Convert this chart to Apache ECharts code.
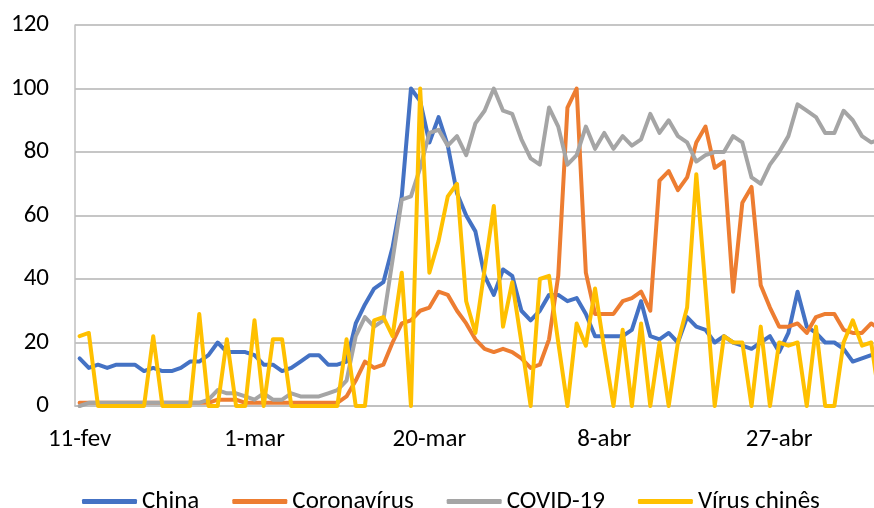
<!DOCTYPE html>
<html>
<head>
<meta charset="utf-8">
<script src="https://cdn.jsdelivr.net/npm/echarts@6/dist/echarts.min.js"></script>
<style>
  html, body { margin: 0; padding: 0; background: #fff; overflow: hidden; }
  /* o gráfico original está cortado à direita, por isso o div é mais largo que a janela */
  #chart { width: 885px; height: 508px; }
</style>
</head>
<body>
<div id="chart"></div>
<script>
// dias de 11-fev em diante
var startDate = new Date(2020, 1, 11);
var monthNames = ['jan', 'fev', 'mar', 'abr', 'mai'];
var dayCount = 88;

var china = [
  15, 12, 13, 12, 13, 13, 13, 11, 12, 11,
  11, 12, 14, 14, 16, 20, 17, 17, 17, 16,
  13, 13, 11, 12, 14, 16, 16, 13, 13, 14,
  26, 32, 37, 39, 50, 66, 100, 96, 83, 91,
  82, 67, 60, 55, 41, 35, 43, 41, 30, 27,
  30, 35, 35, 33, 34, 29, 22, 22, 22, 22,
  24, 33, 22, 21, 23, 20, 28, 25, 24, 20,
  22, 20, 19, 18, 20, 22, 17, 23, 36, 25,
  23, 20, 20, 18, 14, 15, 16, 17
];
var coronavirus = [
  1, 1, 1, 1, 1, 1, 1, 1, 1, 1,
  1, 1, 1, 1, 1, 2, 2, 2, 1, 1,
  1, 1, 1, 1, 1, 1, 1, 1, 1, 3,
  8, 14, 12, 13, 20, 26, 27, 30, 31, 36,
  35, 30, 26, 21, 18, 17, 18, 17, 15, 12,
  13, 21, 41, 94, 100, 42, 29, 29, 29, 33,
  34, 36, 30, 71, 74, 68, 72, 83, 88, 75,
  77, 36, 64, 69, 38, 31, 25, 25, 26, 23,
  28, 29, 29, 24, 23, 23, 26, 24
];
var covid19 = [
  0, 1, 1, 1, 1, 1, 1, 1, 1, 1,
  1, 1, 1, 1, 2, 5, 4, 4, 3, 2,
  4, 2, 2, 4, 3, 3, 3, 4, 5, 8,
  22, 28, 25, 27, 46, 65, 66, 75, 86, 87,
  82, 85, 79, 89, 93, 100, 93, 92, 84, 78,
  76, 94, 88, 76, 79, 88, 81, 86, 81, 85,
  82, 84, 92, 86, 90, 85, 83, 77, 79, 80,
  80, 85, 83, 72, 70, 76, 80, 85, 95, 93,
  91, 86, 86, 93, 90, 85, 83, 84
];
var virusChines = [
  22, 23, 0, 0, 0, 0, 0, 0, 22, 0,
  0, 0, 0, 29, 0, 0, 21, 0, 0, 27,
  0, 21, 21, 0, 0, 0, 0, 0, 0, 21,
  0, 0, 27, 28, 22, 42, 0, 100, 42, 52,
  66, 70, 33, 23, 43, 63, 25, 39, 20, 0,
  40, 41, 20, 0, 26, 19, 37, 18, 0, 24,
  0, 26, 0, 20, 0, 20, 31, 73, 37, 0,
  22, 20, 20, 0, 25, 0, 20, 19, 20, 0,
  25, 0, 0, 20, 27, 19, 20, 0
];
var seriesNames = ['China', 'Coronavírus', 'COVID-19', 'Vírus chinês'];
var colors = ['#4472C4', '#ED7D31', '#A5A5A5', '#FFC000'];

var days = [];
var d = new Date(startDate.getTime());
for (var i = 0; i < dayCount; i++) {
  days.push(d.getDate() + '-' + monthNames[d.getMonth()]);
  d.setDate(d.getDate() + 1);
}

var font = 'Carlito, Lato, sans-serif';
var chart = echarts.init(document.getElementById('chart'), null, { renderer: 'canvas' });

function makeLine(name, data) {
  return {
    name: name,
    type: 'line',
    data: data,
    symbol: 'none',
    animation: false,
    lineStyle: { width: 4, cap: 'round', join: 'round' }
  };
}

var option = {
  backgroundColor: '#ffffff',
  color: colors,
  animation: false,
  grid: { left: 75, top: 25, right: 0, bottom: 102 },
  legend: {
    left: 77,
    top: 484,
    icon: 'roundRect',
    itemWidth: 55,
    itemHeight: 5,
    itemGap: 33,
    textStyle: { fontFamily: font, fontSize: 25, color: '#000' },
    data: seriesNames
  },
  xAxis: {
    type: 'category',
    boundaryGap: true,
    data: days,
    axisLine: { lineStyle: { color: '#bfbfbf', width: 1.5 } },
    axisTick: { show: false },
    axisLabel: { interval: 18, margin: 21, fontFamily: font, fontSize: 25, color: '#000' }
  },
  yAxis: {
    type: 'value',
    min: 0,
    max: 120,
    interval: 20,
    axisLine: { show: true, lineStyle: { color: '#bfbfbf', width: 1.5 } },
    axisTick: { show: false },
    axisLabel: { margin: 26, fontFamily: font, fontSize: 25, color: '#000' },
    splitLine: { lineStyle: { color: '#b3b3b3', width: 1.5 } }
  },
  series: [
    makeLine(seriesNames[0], china),
    makeLine(seriesNames[1], coronavirus),
    makeLine(seriesNames[2], covid19),
    makeLine(seriesNames[3], virusChines)
  ]
};
chart.setOption(option);
</script>
</body>
</html>
